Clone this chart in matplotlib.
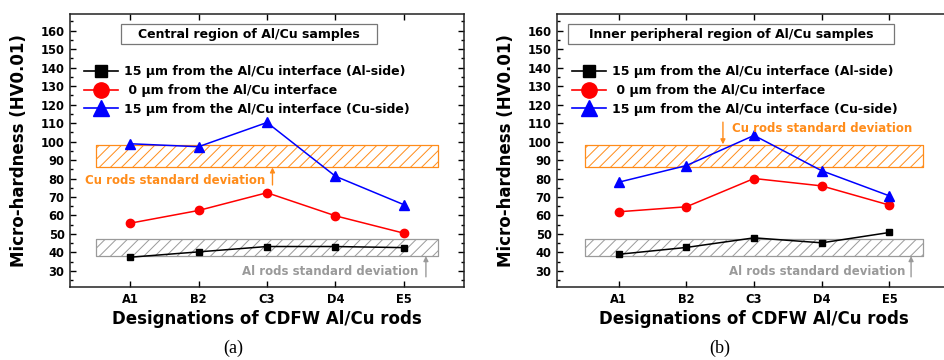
import matplotlib
matplotlib.use("Agg")
import matplotlib.pyplot as plt
from matplotlib.lines import Line2D
from matplotlib.patches import Rectangle

plt.rcParams['font.family'] = ['DejaVu Sans']
plt.rcParams['font.weight'] = 'bold'
plt.rcParams['hatch.linewidth'] = 0.7

categories = ["A1", "B2", "C3", "D4", "E5"]
x_pos = [1, 2, 3, 4, 5]

# Panel (a): central region
a_al_side = [37.4, 40.3, 43.2, 43.2, 42.6]
a_interface = [55.8, 62.7, 72.3, 59.8, 50.4]
a_cu_side = [98.8, 97.2, 110.3, 81.2, 65.8]

# Panel (b): inner peripheral region
b_al_side = [39.0, 42.7, 47.9, 45.2, 50.8]
b_interface = [62.0, 64.7, 80.0, 76.0, 65.6]
b_cu_side = [78.0, 87.0, 103.3, 84.2, 70.6]

cu_band = (86, 98)
al_band = (38, 47)
band_x = (0.5, 5.5)

titles = ["Central region of Al/Cu samples", "Inner peripheral region of Al/Cu samples"]
legend_labels = ["15 \u03bcm from the Al/Cu interface (Al-side)",
                 " 0 \u03bcm from the Al/Cu interface",
                 "15 \u03bcm from the Al/Cu interface (Cu-side)"]
panel_tags = ["(a)", "(b)"]

ORANGE = '#FF8C1A'
GRAY = '#9a9a9a'

fig = plt.figure(figsize=(9.45, 3.6), dpi=100)

W = 394 / 945
H = 273 / 360
B = 73 / 360
ax_a = fig.add_axes([70 / 945, B, W, H])
ax_b = fig.add_axes([557 / 945, B, W, H])

def style(ax, xlim):
    ax.set_xlim(*xlim)
    ax.set_ylim(21.3, 169)
    ax.set_xticks(x_pos)
    ax.set_xticklabels(categories)
    ax.set_yticks(range(30, 161, 10))
    ax.set_yticks(range(25, 170, 5), minor=True)
    ax.tick_params(axis='both', which='major', direction='in', length=4, width=1.0,
                   labelsize=8.3, pad=4, top=True, right=True)
    ax.tick_params(axis='y', which='minor', direction='in', length=2.5, width=1.0,
                   left=True, right=True)
    ax.tick_params(axis='x', which='minor', bottom=False, top=False)
    for lab in ax.get_xticklabels() + ax.get_yticklabels():
        lab.set_fontweight('bold')
    for sp in ax.spines.values():
        sp.set_linewidth(1.1)
        sp.set_color('#222222')
    ax.set_xlabel("Designations of CDFW Al/Cu rods", fontsize=12, fontweight='bold', labelpad=3.5)
    ax.set_ylabel("Micro-hardness (HV0.01)", fontsize=12, fontweight='bold', labelpad=9)

def draw(ax, al, it, cu, xlim, title, box, leg_x, cu_text, cu_arrow, al_text, al_arrow, tag, tag_x):
    style(ax, xlim)
    ax.fill_between(band_x, cu_band[0], cu_band[1], facecolor='none', edgecolor=ORANGE,
                    hatch='///', linewidth=0.9, zorder=1)
    ax.fill_between(band_x, al_band[0], al_band[1], facecolor='none', edgecolor=GRAY,
                    hatch='///', linewidth=0.9, zorder=1)
    ax.plot(x_pos, al, color='black', marker='s', markersize=5, lw=1.1, zorder=3)
    ax.plot(x_pos, it, color='red', marker='o', markersize=6, lw=1.1, zorder=3)
    ax.plot(x_pos, cu, color='blue', marker='^', markersize=6.5, lw=1.1, zorder=3)

    handles = [Line2D([], [], color='black', marker='s', markersize=8, lw=1.2),
               Line2D([], [], color='red', marker='o', markersize=11, lw=1.2),
               Line2D([], [], color='blue', marker='^', markersize=11, lw=1.2)]
    ax.legend(handles, legend_labels, loc='upper left', bbox_to_anchor=(leg_x, 0.812),
              frameon=False, handlelength=2.7, handletextpad=0.5,
              labelspacing=0.45, borderpad=0, borderaxespad=0,
              prop={'weight': 'bold', 'size': 9})

    x0, x1, y0, y1 = box
    ax.add_patch(Rectangle((x0, y0), x1 - x0, y1 - y0, transform=ax.transAxes,
                           facecolor='white', edgecolor='#777777', lw=0.9, zorder=4))
    ax.text((x0 + x1) / 2, (y0 + y1) / 2, title, transform=ax.transAxes, ha='center',
            va='center', fontsize=9, fontweight='bold', zorder=5)

    ax.text(cu_text[0], cu_text[1], "Cu rods standard deviation", color=ORANGE, fontsize=8.5,
            fontweight='bold', ha='center', va='center', zorder=4)
    ax.annotate("", xy=cu_arrow[1], xytext=cu_arrow[0],
                arrowprops=dict(arrowstyle='-|>', color=ORANGE, lw=1.0, mutation_scale=7,
                                shrinkA=0, shrinkB=0))
    ax.text(al_text[0], al_text[1], "Al rods standard deviation", color=GRAY, fontsize=8.5,
            fontweight='bold', ha='center', va='center', zorder=4)
    ax.annotate("", xy=al_arrow[1], xytext=al_arrow[0],
                arrowprops=dict(arrowstyle='-|>', color=GRAY, lw=1.0, mutation_scale=7,
                                shrinkA=0, shrinkB=0))
    fig.text(tag_x, 0.033, tag, ha='center', va='center', fontsize=13,
             family='Liberation Serif', fontweight='normal')

draw(ax_a, a_al_side, a_interface, a_cu_side, (0.124, 5.876), titles[0],
     (0.129, 0.779, 0.890, 0.963), 0.036,
     (1.66, 79), ((3.08, 76.5), (3.08, 86)),
     (3.92, 29.6), ((5.32, 26.8), (5.32, 38)),
     panel_tags[0], 233 / 945)
draw(ax_b, b_al_side, b_interface, b_cu_side, (0.088, 5.91), titles[1],
     (0.028, 0.855, 0.890, 0.963), 0.039,
     (4.0, 106.8), ((2.54, 110.5), (2.54, 98.5)),
     (3.93, 29.6), ((5.32, 26.8), (5.32, 38)),
     panel_tags[1], 720 / 945)

fig.savefig("out.png", dpi=100)
